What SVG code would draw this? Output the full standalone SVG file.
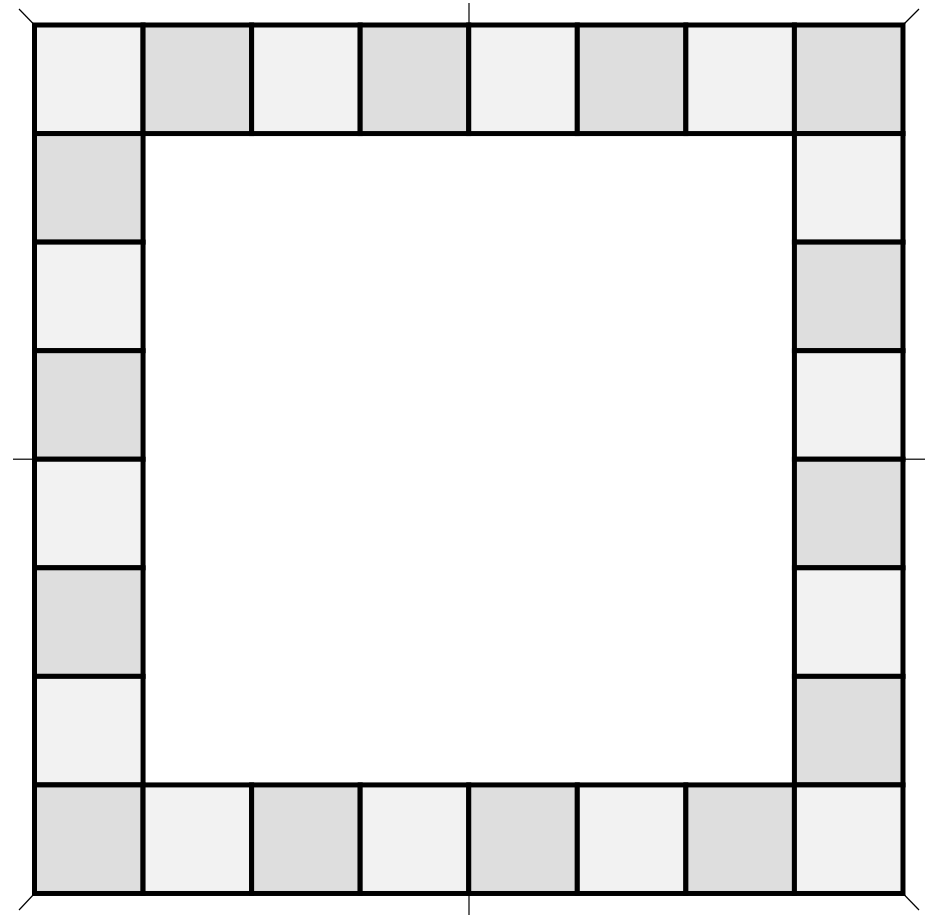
<svg xmlns="http://www.w3.org/2000/svg" width="933" height="916" viewBox="0 0 933 916">
<style>
.l{fill:#f2f2f2;stroke:#000;stroke-width:5}
.d{fill:#dedede;stroke:#000;stroke-width:5}
.t{stroke:#000;stroke-width:1.2;fill:none}
</style>
<rect width="933" height="916" fill="#fff"/>
<g id="ticks">
<line class="t" x1="469" y1="3" x2="469" y2="25"/>
<line class="t" x1="469" y1="893" x2="469" y2="915"/>
<line class="t" x1="13" y1="459.2" x2="34.5" y2="459.2"/>
<line class="t" x1="903" y1="459.2" x2="925" y2="459.2"/>
<line class="t" x1="19" y1="9" x2="34.5" y2="25"/>
<line class="t" x1="919" y1="9" x2="903" y2="25"/>
<line class="t" x1="19" y1="910" x2="34.5" y2="893.5"/>
<line class="t" x1="919" y1="910" x2="903" y2="893.5"/>
</g>
<g transform="translate(34.5,25)">
<g id="top">
<rect id="c0_0" class="l" x="0" y="0" width="108.56" height="108.56"/>
<rect id="c0_1" class="d" x="108.56" y="0" width="108.56" height="108.56"/>
<rect id="c0_2" class="l" x="217.12" y="0" width="108.56" height="108.56"/>
<rect id="c0_3" class="d" x="325.68" y="0" width="108.56" height="108.56"/>
<rect id="c0_4" class="l" x="434.24" y="0" width="108.56" height="108.56"/>
<rect id="c0_5" class="d" x="542.8" y="0" width="108.56" height="108.56"/>
<rect id="c0_6" class="l" x="651.36" y="0" width="108.56" height="108.56"/>
<rect id="c0_7" class="d" x="759.92" y="0" width="108.56" height="108.56"/>
</g>
<g id="left">
<rect id="c1_0" class="d" x="0" y="108.56" width="108.56" height="108.56"/>
<rect id="c2_0" class="l" x="0" y="217.12" width="108.56" height="108.56"/>
<rect id="c3_0" class="d" x="0" y="325.68" width="108.56" height="108.56"/>
<rect id="c4_0" class="l" x="0" y="434.24" width="108.56" height="108.56"/>
<rect id="c5_0" class="d" x="0" y="542.8" width="108.56" height="108.56"/>
<rect id="c6_0" class="l" x="0" y="651.36" width="108.56" height="108.56"/>
</g>
<g id="right">
<rect id="c1_7" class="l" x="759.92" y="108.56" width="108.56" height="108.56"/>
<rect id="c2_7" class="d" x="759.92" y="217.12" width="108.56" height="108.56"/>
<rect id="c3_7" class="l" x="759.92" y="325.68" width="108.56" height="108.56"/>
<rect id="c4_7" class="d" x="759.92" y="434.24" width="108.56" height="108.56"/>
<rect id="c5_7" class="l" x="759.92" y="542.8" width="108.56" height="108.56"/>
<rect id="c6_7" class="d" x="759.92" y="651.36" width="108.56" height="108.56"/>
</g>
<g id="bottom">
<rect id="c7_0" class="d" x="0" y="759.92" width="108.56" height="108.56"/>
<rect id="c7_1" class="l" x="108.56" y="759.92" width="108.56" height="108.56"/>
<rect id="c7_2" class="d" x="217.12" y="759.92" width="108.56" height="108.56"/>
<rect id="c7_3" class="l" x="325.68" y="759.92" width="108.56" height="108.56"/>
<rect id="c7_4" class="d" x="434.24" y="759.92" width="108.56" height="108.56"/>
<rect id="c7_5" class="l" x="542.8" y="759.92" width="108.56" height="108.56"/>
<rect id="c7_6" class="d" x="651.36" y="759.92" width="108.56" height="108.56"/>
<rect id="c7_7" class="l" x="759.92" y="759.92" width="108.56" height="108.56"/>
</g>
</g>
</svg>
